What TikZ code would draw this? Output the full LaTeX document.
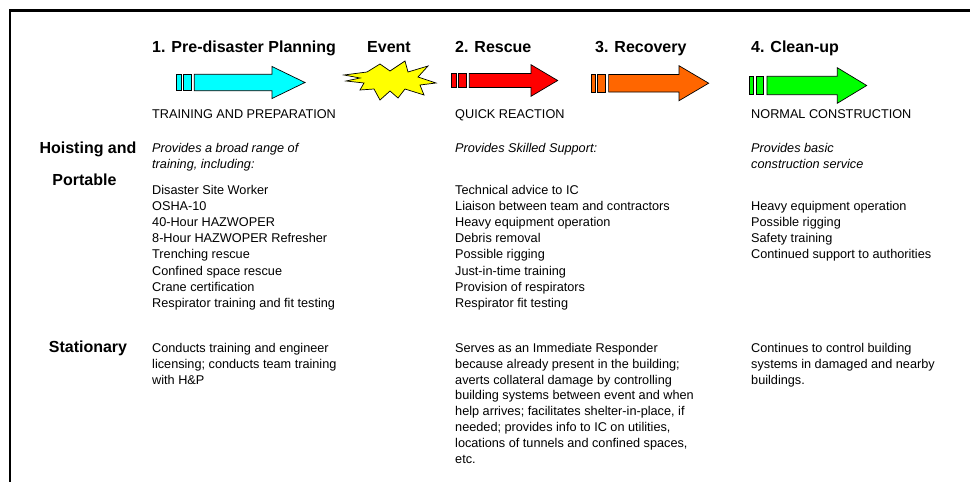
\documentclass[tikz,border=0pt]{standalone}
\usepackage{fontspec}
\setmainfont{Liberation Sans}
\definecolor{phasecyan}{RGB}{0,255,255}
\definecolor{phasered}{RGB}{255,0,0}
\definecolor{phaseorange}{RGB}{255,102,0}
\definecolor{phasegreen}{RGB}{0,255,0}
\definecolor{burstyellow}{RGB}{255,255,0}
\begin{document}
\begin{tikzpicture}[x=1pt, y=-1pt,
  phase/.style={anchor=base west, inner sep=0pt, font=\bfseries\fontsize{16}{18}\selectfont},
  rowlabel/.style={anchor=base, inner sep=0pt, font=\bfseries\fontsize{16}{18}\selectfont},
  caption/.style={anchor=base west, inner sep=0pt, font=\fontsize{12.7}{16.1}\selectfont},
  intro/.style={anchor=north west, inner sep=0pt, align=left, font=\itshape\fontsize{12.7}{16.4}\selectfont},
  items/.style={anchor=north west, inner sep=0pt, align=left, font=\fontsize{12.7}{16.1}\selectfont},
  notes/.style={items, font=\fontsize{12.7}{15.9}\selectfont},
  outline/.style={draw=black, line width=0.7pt, line join=miter}]
\useasboundingbox (0,0) rectangle (970,482);
% frame: rules along the top and the left side
\draw[line width=2.2pt] (970,10.5) -- (10,10.5) -- (10,482);
% phase headings
\node[phase] (plan) at (152,52.5) {1. Pre-disaster Planning};
\node[phase] (event) at (367,52.5) {Event};
\node[phase] (rescue) at (455,52.5) {2. Rescue};
\node[phase] (recovery) at (595,52.5) {3. Recovery};
\node[phase] (cleanup) at (751,52.5) {4. Clean-up};
% block arrows: two bars, then the arrow body
\foreach \xa/\xb/\xc/\yc/\bh/\hh/\col in {
    176.7/272/305/82.5/8.2/16/phasecyan,
    451.7/531/557.7/80.5/7/15.8/phasered,
    591/679/708.7/83.2/8.8/17.5/phaseorange,
    749.3/837.3/866.7/85.5/9.2/17.8/phasegreen}{
  \filldraw[outline, fill=\col] (\xa,\yc-\bh) rectangle (\xa+4.3,\yc+\bh);
  \filldraw[outline, fill=\col] (\xa+6.6,\yc-\bh) rectangle (\xa+14.3,\yc+\bh);
  \filldraw[outline, fill=\col] (\xa+17.6,\yc-\bh) -- (\xb,\yc-\bh) -- (\xb,\yc-\hh)
    -- (\xc,\yc) -- (\xb,\yc+\hh) -- (\xb,\yc+\bh) -- (\xa+17.6,\yc+\bh) -- cycle;
}
% the event burst
\filldraw[outline, fill=burstyellow] (344,75) -- (367,72) -- (380,64) -- (390,71) -- (405,61)
  -- (408,72) -- (428,66) -- (418,77) -- (436,83) -- (420,85) -- (424,95) -- (405,89)
  -- (398,98) -- (390,91) -- (380,100) -- (374,89) -- (360,90) -- (364,83) -- (346,81)
  -- (360,78) -- cycle;
% captions under the arrows
\node[caption] (planmode) at (152,118.3) {TRAINING AND PREPARATION};
\node[caption] (rescuemode) at (455,118.3) {QUICK REACTION};
\node[caption] (cleanupmode) at (751,118.3) {NORMAL CONSTRUCTION};
% row labels
\node[rowlabel] (hoist) at (88,153) {Hoisting and};
\node[rowlabel] (portable) at (84.5,185.7) {Portable};
\node[rowlabel] (stationary) at (88,352.3) {Stationary};
% hoisting and portable row (tops sit one cap height above the first baseline)
\node[intro] (hpplan) at (152,142.6) {Provides a broad range of\\training, including:};
\node[intro] (hprescue) at (455,142.6) {Provides Skilled Support:};
\node[intro] (hpcleanup) at (751,142.6) {Provides basic\\construction service};
\node[items] (hpplanlist) at (152,185.1) {Disaster Site Worker\\OSHA-10\\40-Hour HAZWOPER\\
  8-Hour HAZWOPER Refresher\\Trenching rescue\\Confined space rescue\\
  Crane certification\\Respirator training and fit testing};
\node[items] (hprescuelist) at (455,185.1) {Technical advice to IC\\
  Liaison between team and contractors\\Heavy equipment operation\\Debris removal\\
  Possible rigging\\Just-in-time training\\Provision of respirators\\Respirator fit testing};
\node[items] (hpcleanuplist) at (751,201.2) {Heavy equipment operation\\Possible rigging\\
  Safety training\\Continued support to authorities};
% stationary row
\node[notes] (stplan) at (152,342.8) {Conducts training and engineer\\
  licensing; conducts team training\\with H\&P};
\node[notes] (strescue) at (455,342.8) {Serves as an Immediate Responder\\
  because already present in the building;\\averts collateral damage by controlling\\
  building systems between event and when\\help arrives; facilitates shelter-in-place, if\\
  needed; provides info to IC on utilities,\\locations of tunnels and confined spaces,\\etc.};
\node[notes] (stcleanup) at (751,342.8) {Continues to control building\\
  systems in damaged and nearby\\buildings.};
\end{tikzpicture}
\end{document}
